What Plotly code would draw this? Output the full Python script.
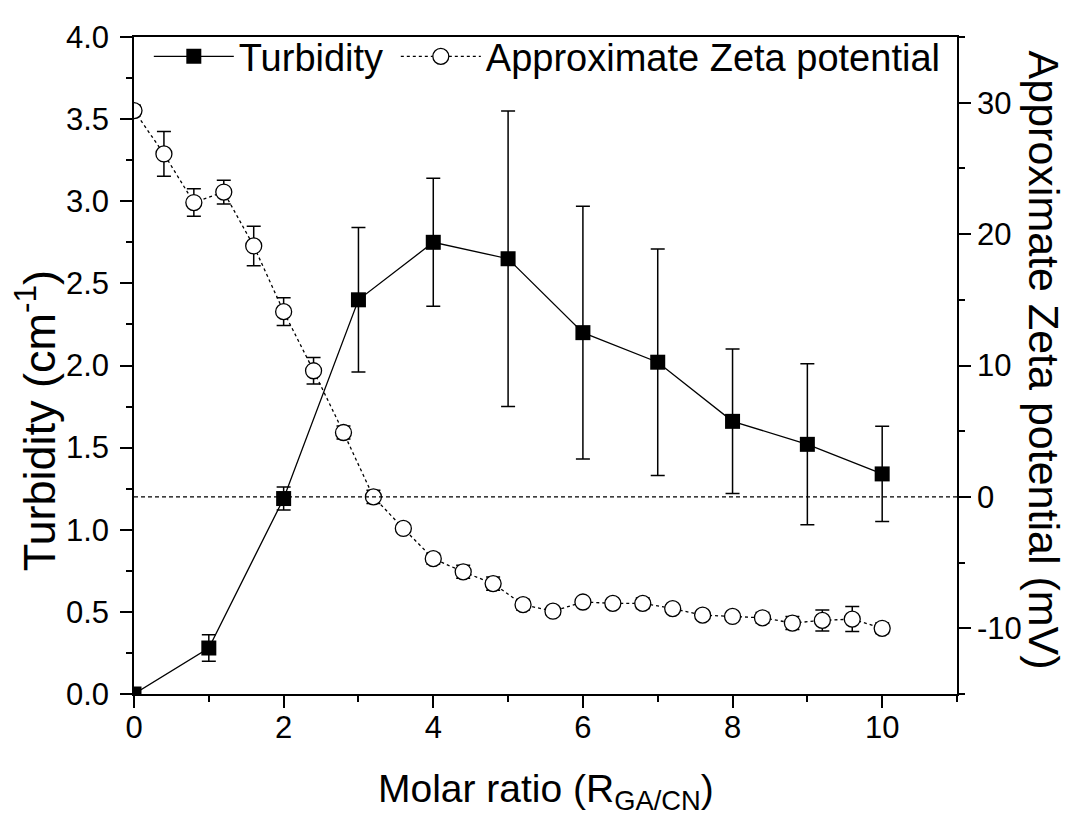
import plotly.graph_objects as go

# Turbidity (left axis)
turb_x = [0, 1, 2, 3, 4, 5, 6, 7, 8, 9, 10]
turb_y = [0.0, 0.28, 1.19, 2.40, 2.75, 2.65, 2.20, 2.02, 1.66, 1.52, 1.34]
turb_err = [0.0, 0.08, 0.07, 0.44, 0.39, 0.90, 0.77, 0.69, 0.44, 0.49, 0.29]

# Approximate Zeta potential (right axis, mV)
zeta_x = [0, 0.4, 0.8, 1.2, 1.6, 2.0, 2.4, 2.8, 3.2, 3.6, 4.0, 4.4, 4.8,
          5.2, 5.6, 6.0, 6.4, 6.8, 7.2, 7.6, 8.0, 8.4, 8.8, 9.2, 9.6, 10.0]
zeta_y = [29.4, 26.1, 22.4, 23.2, 19.1, 14.1, 9.6, 4.9, 0.0, -2.4, -4.7, -5.7, -6.6,
          -8.2, -8.7, -8.0, -8.1, -8.1, -8.5, -9.0, -9.1, -9.2, -9.6, -9.4, -9.3, -10.0]
zeta_err = [0.4, 1.7, 1.05, 0.9, 1.5, 1.05, 1.0, 0.5, 0.5, 0.3, 0.4, 0.5, 0.5,
            0.4, 0.3, 0.3, 0.3, 0.4, 0.3, 0.3, 0.3, 0.4, 0.5, 0.8, 0.95, 0.4]

# Tick labels
x_ticks = [0, 2, 4, 6, 8, 10]
x_minor = [1, 3, 5, 7, 9, 11]
y_ticks = [0, 0.5, 1, 1.5, 2, 2.5, 3, 3.5, 4]
y2_ticks = [-10, 0, 10, 20, 30]
y2_ticktext = ["-10", "0", "10", "20", "30"]
y2_minor = [-15, -5, 5, 15, 25, 35]

FONT = "Liberation Sans, Arial, sans-serif"

fig = go.Figure()
fig.add_trace(go.Scatter(
    x=turb_x, y=turb_y, name="Turbidity", mode="lines+markers",
    line=dict(color="black", width=1.3),
    marker=dict(symbol="square", size=15, color="black"),
    error_y=dict(type="data", array=turb_err, color="black", thickness=1.5, width=7),
    yaxis="y", legendwidth=152,
))
fig.add_trace(go.Scatter(
    x=zeta_x, y=zeta_y, name="Approximate Zeta potential", mode="lines+markers",
    line=dict(color="black", width=1.3, dash="dot"),
    marker=dict(symbol="circle", size=16, color="white", line=dict(width=1.3, color="black")),
    error_y=dict(type="data", array=zeta_err, color="black", thickness=1.5, width=7),
    yaxis="y2",
))

fig.add_shape(type="line", xref="paper", x0=0, x1=1, yref="y2", y0=0, y1=0,
              line=dict(color="black", width=1.2, dash="4px,3px"))

tickfont = dict(family=FONT, size=31, color="black")
axis_common = dict(showgrid=False, zeroline=False, showline=True, linecolor="black",
                   linewidth=1.5, ticks="outside", ticklen=12, tickwidth=1.5,
                   tickcolor="black", tickfont=tickfont)
minor_common = dict(ticks="outside", ticklen=6, tickwidth=1.5, tickcolor="black")

fig.update_layout(
    width=1076, height=816,
    margin=dict(l=126, r=127, t=24, b=130),
    plot_bgcolor="white", paper_bgcolor="white",
    font=dict(family=FONT, color="black"),
    xaxis=dict(range=[0, 11], tickvals=x_ticks, mirror=True, ticklabelstandoff=-7,
               minor=dict(tickvals=x_minor, **minor_common),
               **axis_common),
    yaxis=dict(range=[0, 4], tickvals=y_ticks, tickformat=".1f", ticklabelstandoff=5,
               minor=dict(dtick=0.25, **minor_common),
               **axis_common),
    yaxis2=dict(range=[-15, 35], overlaying="y", side="right",
                tickvals=y2_ticks, ticktext=y2_ticktext, ticklabelstandoff=0,
                minor=dict(tickvals=y2_minor, **minor_common),
                **axis_common),
    legend=dict(orientation="h", x=0.018, y=1.018, xanchor="left", yanchor="top",
                font=dict(family=FONT, size=38, color="black"),
                bgcolor="rgba(0,0,0,0)", itemwidth=80, tracegroupgap=0),
    showlegend=True,
)

fig.add_annotation(text="Approximate Zeta potential (mV)", textangle=90,
                   xref="paper", yref="paper", x=1.0, y=0.509, xshift=87,
                   xanchor="center", yanchor="middle",
                   showarrow=False, font=dict(family=FONT, size=43, color="black"))
fig.add_annotation(text="Turbidity (cm<sup>-1</sup>)", textangle=-90,
                   xref="paper", yref="paper", x=0.0, y=0.415, xshift=-98,
                   xanchor="center", yanchor="middle",
                   showarrow=False, font=dict(family=FONT, size=45, color="black"))
fig.add_annotation(text="Molar ratio (R<sub>GA/CN</sub>)",
                   xref="paper", yref="paper", x=0.5, y=0.0, yshift=-97,
                   xanchor="center", yanchor="middle",
                   showarrow=False, font=dict(family=FONT, size=39, color="black"))

fig.write_html("out.html")
